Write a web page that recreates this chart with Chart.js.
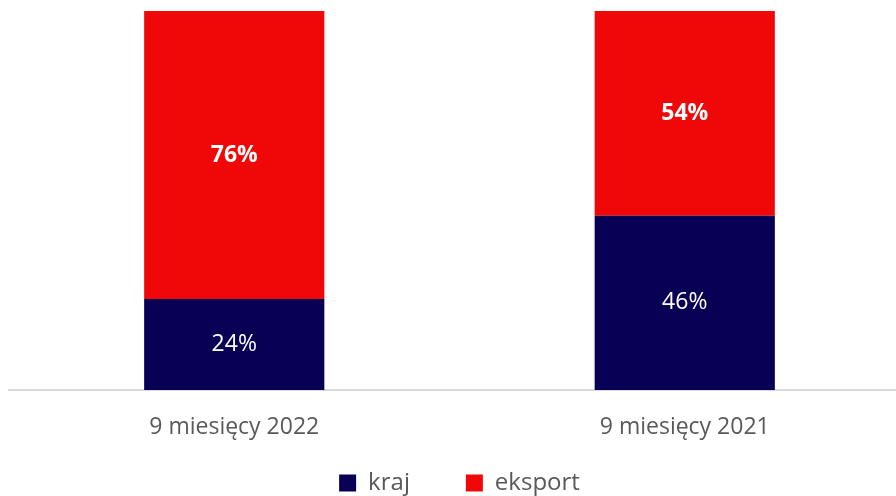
<!DOCTYPE html>
<html>
<head>
<meta charset="utf-8">
<script src="https://cdn.jsdelivr.net/npm/chart.js@4"></script>
<style>
  html, body { margin: 0; padding: 0; background: #fff; overflow: hidden; }
  #wrap { width: 910px; height: 496px; }
</style>
</head>
<body>
<div id="wrap"><canvas id="chart" width="910" height="496"></canvas></div>
<script>
// categories and shares (percent)
const periods = ['9 miesięcy 2022', '9 miesięcy 2021'];
const kraj = [24, 46];
const eksport = [76, 54];

const fontFamily = "'Open Sans', sans-serif";

// draws value labels in the middle of each bar segment
const segmentLabels = {
    id: 'segmentLabels',
    afterDatasetsDraw(chart) {
        const ctx = chart.ctx;
        ctx.save();
        ctx.textAlign = 'center';
        ctx.textBaseline = 'middle';
        ctx.fillStyle = '#ffffff';
        chart.data.datasets.forEach((ds, i) => {
            const meta = chart.getDatasetMeta(i);
            meta.data.forEach((bar, j) => {
                const mid = (bar.y + bar.base) / 2;
                ctx.font = (ds.labelBold ? 'bold ' : '') + '23px ' + fontFamily;
                ctx.fillText(ds.data[j] + '%', bar.x, mid);
            });
        });
        ctx.restore();
    }
};

new Chart(document.getElementById('chart'), {
    type: 'bar',
    data: {
        labels: periods,
        datasets: [
            {
                label: 'kraj',
                data: kraj,
                backgroundColor: '#080055',
                labelBold: false
            },
            {
                label: 'eksport',
                data: eksport,
                backgroundColor: '#f00808',
                labelBold: true
            }
        ]
    },
    options: {
        responsive: false,
        animation: false,
        barPercentage: 0.4,
        categoryPercentage: 1,
        layout: { padding: { left: 9, top: 11, right: 0, bottom: -9 } },
        scales: {
            x: {
                stacked: true,
                grid: { display: false },
                border: { color: '#d9d9d9', width: 2 },
                ticks: {
                    color: '#595959',
                    padding: 16,
                    font: { family: fontFamily, size: 23 }
                },
                afterFit(scale) { scale.height = 50; }
            },
            y: {
                stacked: true,
                display: false,
                min: 0,
                max: 100
            }
        },
        plugins: {
            legend: {
                position: 'bottom',
                labels: {
                    color: '#595959',
                    boxWidth: 17,
                    boxHeight: 17,
                    padding: 31,
                    font: { family: fontFamily, size: 24 },
                    // extra room after the first entry, the legend rows stay low
                    generateLabels(chart) {
                        const items = Chart.defaults.plugins.legend.labels.generateLabels(chart);
                        items[0].text += '\u00a0\u00a0\u00a0\u00a0';
                        return items;
                    }
                }
            },
            tooltip: { enabled: false }
        }
    },
    plugins: [segmentLabels]
});
</script>
</body>
</html>
